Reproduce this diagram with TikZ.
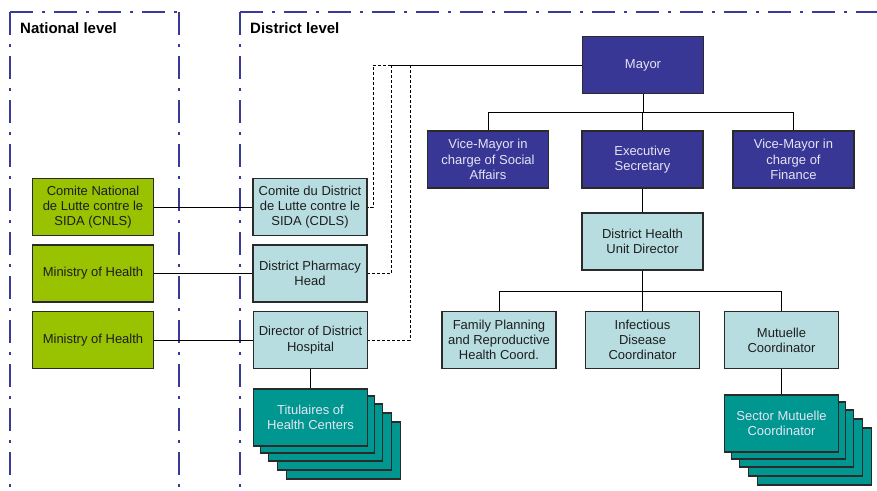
\documentclass[tikz,border=0pt]{standalone}
\usepackage{fontspec}
\setmainfont{Liberation Sans}
\begin{document}
\definecolor{framecol}{HTML}{3A3A9A}
\definecolor{navy}{HTML}{383795}
\definecolor{paleteal}{HTML}{B7DDE0}
\definecolor{lime}{HTML}{99C200}
\definecolor{deepteal}{HTML}{009790}
\definecolor{edgecol}{HTML}{2A2A2A}
\definecolor{lighttext}{HTML}{E4E4F4}
\definecolor{darktext}{HTML}{1E1E1E}
\begin{tikzpicture}[x=1pt,y=-1pt,
  frame/.style={draw=framecol,line width=2.4pt,dash pattern=on 23pt off 9pt on 2.5pt off 9.5pt},
  box/.style={draw=edgecol,line width=1.1pt,align=center,inner sep=1pt,
    font=\fontsize{13}{15.3}\selectfont,minimum height=57pt},
  wide/.style={box,minimum width=121pt},
  narrow/.style={box,minimum width=114pt},
  navybox/.style={wide,fill=navy,text=lighttext},
  palebox/.style={fill=paleteal,text=darktext},
  limebox/.style={wide,fill=lime,text=darktext},
  stackbox/.style={narrow,fill=deepteal,text=lighttext},
  link/.style={draw=black,line width=1pt},
  dotlink/.style={draw=black,line width=0.9pt,dash pattern=on 3pt off 2pt},
  header/.style={font=\fontsize{15}{18}\selectfont\bfseries,anchor=base west,inner sep=0pt}]
\useasboundingbox (0,0) rectangle (877,490);

% level frames
\draw[frame] (10,12) -- (179,12);
\draw[frame] (10,12) -- (10,492);
\draw[frame] (179,12) -- (179,492);
\draw[frame] (240,12) -- (890,12);
\draw[frame] (240,12) -- (240,492);
\node[header] (nat) at (20,33) {National level};
\node[header] (dis) at (250,33) {District level};

% municipal hierarchy
\node[navybox] (mayor) at (643,65) {Mayor};
\node[navybox] (vms) at (488,159.5) {Vice-Mayor in\\charge of Social\\Affairs};
\node[navybox] (es) at (642.5,159.5) {Executive\\Secretary};
\node[navybox] (vmf) at (793.5,159.5) {Vice-Mayor in\\charge of\\Finance};
\node[wide,palebox] (dhud) at (642.5,241.5) {District Health\\Unit Director};
\node[narrow,palebox] (fp) at (499,340) {Family Planning\\and Reproductive\\Health Coord.};
\node[narrow,palebox] (idc) at (642.5,340) {Infectious\\Disease\\Coordinator};
\node[narrow,palebox] (mc) at (781.5,340) {Mutuelle\\Coordinator};

% sector mutuelle coordinators (stacked)
\foreach \d/\n in {33/4,24/3,15/2,7/1}
  \node[stackbox] (sec\n) at (781.5+\d,423.5+\d) {};
\node[stackbox] (sec) at (781.5,423.5) {Sector Mutuelle\\Coordinator};

% national level
\node[limebox] (cnls) at (93,207) {Comite National\\de Lutte contre le\\SIDA (CNLS)};
\node[limebox] (moh1) at (93,273.5) {Ministry of Health};
\node[limebox] (moh2) at (93,340) {Ministry of Health};

% district health bodies
\node[narrow,palebox] (cdls) at (310,207) {Comite du District\\de Lutte contre le\\SIDA (CDLS)};
\node[narrow,palebox] (pharm) at (310,273.5) {District Pharmacy\\Head};
\node[narrow,palebox] (dir) at (310.5,340) {Director of District\\Hospital};

% health center titulaires (stacked)
\foreach \d/\n in {33/4,24/3,15/2,7/1}
  \node[stackbox] (tit\n) at (310.5+\d,417.5+\d) {};
\node[stackbox] (tit) at (310.5,417.5) {Titulaires of\\Health Centers};

% tree connectors
\coordinate (busA) at (643,112);
\draw[link] (mayor.south) -- (busA);
\draw[link] (vms.north) |- (busA);
\draw[link] (vmf.north) |- (busA);
\draw[link] (es.north) -- (es.north |- busA);
\draw[link] (es.south) -- (dhud.north);
\coordinate (busB) at (642.5,291);
\draw[link] (dhud.south) -- (busB);
\draw[link] (fp.north) |- (busB);
\draw[link] (mc.north) |- (busB);
\draw[link] (idc.north) -- (idc.north |- busB);
\draw[link] (mc.south) -- (sec.north);
\draw[link] (dir.south) -- (tit.north);

% national to district links
\draw[link] (cnls.east) -- (cdls.west);
\draw[link] (moh1.east) -- (pharm.west);
\draw[link] (moh2.east) -- (dir.west);

% mayor's oversight links
\coordinate (jA) at (391,65);
\coordinate (jB) at (373,65);
\coordinate (jC) at (410,65);
\draw[link] (mayor.west) -- (jA);
\draw[dotlink] (jA) -- (jB) |- (cdls.east);
\draw[dotlink] (jA) |- (pharm.east);
\draw[dotlink] (jC) |- (dir.east);
\end{tikzpicture}
\end{document}
